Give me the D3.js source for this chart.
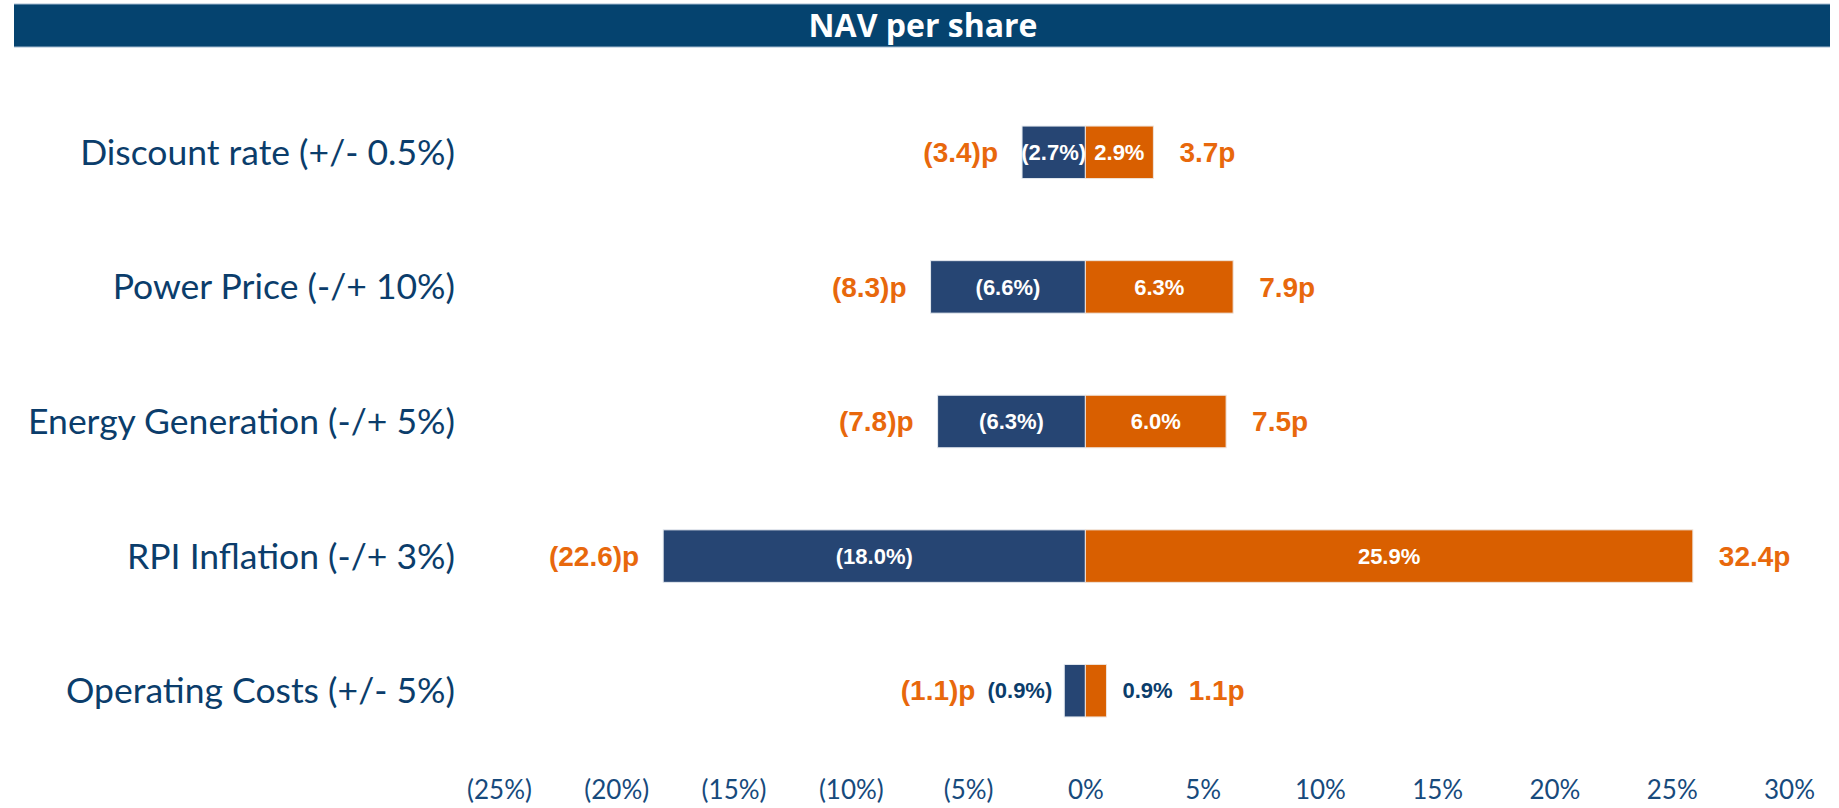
<!DOCTYPE html>
<html>
<head>
<meta charset="utf-8">
<script src="https://cdn.jsdelivr.net/npm/d3@7"></script>
<style>
  body { margin: 0; background: #fff; }
  svg { display: block; }
</style>
</head>
<body>
<svg id="chart"></svg>
<script>
const categories = [
    "Discount rate (+/- 0.5%)",
    "Power Price (-/+ 10%)",
    "Energy Generation (-/+ 5%)",
    "RPI Inflation (-/+ 3%)",
    "Operating Costs (+/- 5%)"
];
const downPct = [-2.7, -6.6, -6.3, -18.0, -0.9];
const upPct = [2.9, 6.3, 6.0, 25.9, 0.9];
const downPence = [-3.4, -8.3, -7.8, -22.6, -1.1];
const upPence = [3.7, 7.9, 7.5, 32.4, 1.1];
const tickValues = [-25, -20, -15, -10, -5, 0, 5, 10, 15, 20, 25, 30];

const W = 1839, H = 808;
const navy = "#264573", orange = "#d95f00", orangeText = "#e8680c", labelBlue = "#0b3d6b";

const svg = d3.select("#chart").attr("width", W).attr("height", H);

// title bar
svg.append("rect")
    .attr("x", 14).attr("y", 4)
    .attr("width", 1816).attr("height", 43)
    .attr("fill", "#05436f");
svg.append("line").attr("x1", 14).attr("x2", 1830).attr("y1", 4).attr("y2", 4)
    .attr("stroke", "#a6bcd2").attr("stroke-width", 1);
svg.append("line").attr("x1", 14).attr("x2", 1830).attr("y1", 47).attr("y2", 47)
    .attr("stroke", "#a6bcd2").attr("stroke-width", 1);
svg.append("text")
    .attr("x", 923).attr("y", 26).attr("dy", "0.35em")
    .attr("text-anchor", "middle")
    .style("font-family", "'Open Sans', sans-serif")
    .style("font-weight", "bold")
    .style("font-size", "32px")
    .attr("fill", "#fff")
    .text("NAV per share");

const data = categories.map((c, i) => ({
    category: c, down: downPct[i], up: upPct[i], downP: downPence[i], upP: upPence[i]
}));

const x = d3.scaleLinear().domain([-25, 30]).range([499, 1789]);
const y = d3.scaleBand()
    .domain(categories)
    .range([85, 758])
    .paddingInner(0.61)
    .paddingOuter(0.305);

const fmtPct = v => v < 0 ? `(${Math.abs(v).toFixed(1)}%)` : `${v.toFixed(1)}%`;
const fmtP = v => v < 0 ? `(${Math.abs(v).toFixed(1)})p` : `${v.toFixed(1)}p`;

// category labels
svg.append("g").selectAll("text")
    .data(data)
    .enter().append("text")
    .attr("x", 455)
    .attr("y", d => y(d.category) + y.bandwidth() / 2)
    .attr("dy", "0.35em")
    .attr("text-anchor", "end")
    .style("font-family", "Lato, sans-serif")
    .style("font-size", "35.5px")
    .attr("fill", labelBlue)
    .text(d => d.category);

const rows = svg.append("g").selectAll("g")
    .data(data)
    .enter().append("g")
    .attr("transform", d => `translate(0,${y(d.category)})`);

const bh = y.bandwidth();

rows.append("rect")
    .attr("x", d => x(d.down))
    .attr("y", 0)
    .attr("width", d => x(0) - x(d.down))
    .attr("height", bh)
    .attr("fill", navy)
    .attr("stroke", "#e4e9ef").attr("stroke-width", 1);

rows.append("rect")
    .attr("x", x(0))
    .attr("y", 0)
    .attr("width", d => x(d.up) - x(0))
    .attr("height", bh)
    .attr("fill", orange)
    .attr("stroke", "#efe3da").attr("stroke-width", 1);

const small = 40;
const pctStyle = sel => sel
    .attr("dy", "0.35em")
    .style("font-family", "'Liberation Sans', Arial, sans-serif")
    .style("font-weight", "bold")
    .style("font-size", "22px");
const penceStyle = sel => sel
    .attr("dy", "0.35em")
    .style("font-family", "'Liberation Sans', Arial, sans-serif")
    .style("font-weight", "bold")
    .style("font-size", "28px")
    .attr("fill", orangeText);

rows.each(function(d) {
    const g = d3.select(this);
    const wDown = x(0) - x(d.down), wUp = x(d.up) - x(0);

    // negative side
    let leftEdge = x(d.down);
    if (wDown >= small) {
        g.append("text").call(pctStyle)
            .attr("x", (x(d.down) + x(0)) / 2).attr("y", bh / 2)
            .attr("text-anchor", "middle").attr("fill", "#fff")
            .text(fmtPct(d.down));
    } else {
        const t = g.append("text").call(pctStyle)
            .attr("x", leftEdge - 12).attr("y", bh / 2)
            .attr("text-anchor", "end").attr("fill", labelBlue)
            .text(fmtPct(d.down));
        leftEdge = leftEdge - 12 - t.node().getComputedTextLength();
    }
    g.append("text").call(penceStyle)
        .attr("x", leftEdge - (wDown >= small ? 24 : 12)).attr("y", bh / 2)
        .attr("text-anchor", "end")
        .text(fmtP(d.downP));

    // positive side
    let rightEdge = x(d.up);
    if (wUp >= small) {
        g.append("text").call(pctStyle)
            .attr("x", (x(d.up) + x(0)) / 2).attr("y", bh / 2)
            .attr("text-anchor", "middle").attr("fill", "#fff")
            .text(fmtPct(d.up));
    } else {
        const t = g.append("text").call(pctStyle)
            .attr("x", rightEdge + 16).attr("y", bh / 2)
            .attr("text-anchor", "start").attr("fill", labelBlue)
            .text(fmtPct(d.up));
        rightEdge = rightEdge + 16 + t.node().getComputedTextLength();
    }
    g.append("text").call(penceStyle)
        .attr("x", rightEdge + (wUp >= small ? 26 : 16)).attr("y", bh / 2)
        .attr("text-anchor", "start")
        .text(fmtP(d.upP));
});

// x axis
const axis = svg.append("g")
    .attr("transform", "translate(0,781)")
    .call(d3.axisBottom(x)
        .tickValues(tickValues)
        .tickSize(0)
        .tickPadding(0)
        .tickFormat(d => d < 0 ? `(${-d}%)` : `${d}%`));
axis.select(".domain").remove();
axis.selectAll("text")
    .style("font-family", "Lato, sans-serif")
    .style("font-size", "26px")
    .attr("fill", "#174a7c");
</script>
</body>
</html>
